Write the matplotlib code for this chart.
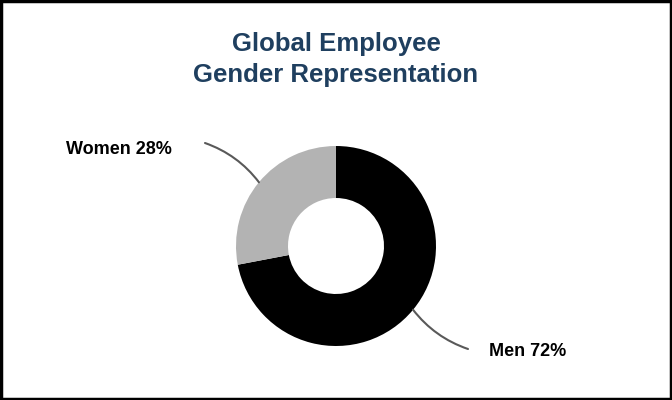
import numpy as np
import matplotlib.pyplot as plt
from matplotlib.patches import Rectangle

plt.rcParams['font.family'] = ['Liberation Sans', 'DejaVu Sans']

labels = ["Men", "Women"]
shares = [72, 28]
colors = ["#000000", "#B3B3B3"]

fig = plt.figure(figsize=(6.72, 4), dpi=100)
ax = fig.add_axes([0, 0, 1, 1])

cx, cy, r = 336, 154, 100
wedges, _ = ax.pie(shares, colors=colors, startangle=90, counterclock=False,
                   center=(cx, cy), radius=r, wedgeprops=dict(width=52, linewidth=0),
                   frame=True)
ax.set_xlim(0, 672)
ax.set_ylim(0, 400)
ax.set_aspect('equal')
ax.axis('off')

# leader lines and labels
ends = {"Men": (468, 51), "Women": (205, 257)}
text_pos = {"Men": (489, 48, 'left'), "Women": (172, 251, 'right')}
for w, lab, val in zip(wedges, labels, shares):
    ang = np.deg2rad((w.theta1 + w.theta2) / 2)
    p = (cx + r * np.cos(ang), cy + r * np.sin(ang))
    ax.annotate("", xy=p, xytext=ends[lab],
                arrowprops=dict(arrowstyle='-', color='#595959', lw=1.5,
                                shrinkA=0, shrinkB=0,
                                connectionstyle="arc3,rad=-0.15"))
    tx, ty, ha = text_pos[lab]
    ax.text(tx, ty, f"{lab} {val}%", ha=ha, va='center', fontsize=13,
            fontweight='bold', color='black')

fig.text(0.5, 1 - 44 / 400, "Global Employee", ha='center', va='center',
         fontsize=18.5, fontweight='bold', color='#1F3F5F')
fig.text(0.5, 1 - 75 / 400, "Gender Representation", ha='center', va='center',
         fontsize=18.5, fontweight='bold', color='#1F3F5F')

fig.patches.append(Rectangle((0.002, 0.003), 0.996, 0.994, transform=fig.transFigure,
                             fill=False, edgecolor='black', linewidth=2.5))

fig.savefig("out.png", dpi=100)
